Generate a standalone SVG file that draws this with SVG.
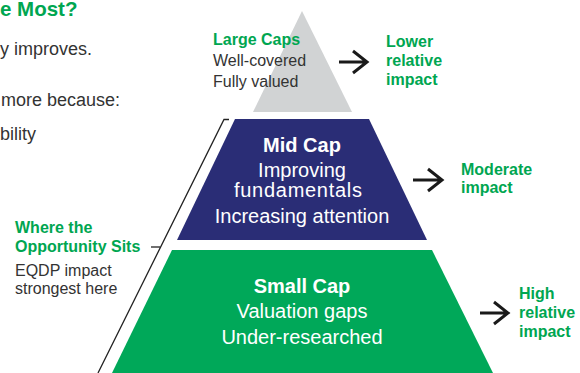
<svg xmlns="http://www.w3.org/2000/svg" width="580" height="373" viewBox="0 0 580 373">
<style>
text{font-family:"Liberation Sans",Arial,sans-serif}
.g{fill:#00a651;font-weight:bold;font-size:16px}
.d{fill:#333333;font-size:16px}
.body{fill:#333333;font-size:18px}
.w{fill:#ffffff;font-size:20px;text-anchor:middle}
.wb{fill:#ffffff;font-size:20px;font-weight:bold;text-anchor:middle}
.arr{fill:none;stroke:#1a1a1a;stroke-width:3}
.thin{fill:none;stroke:#222222;stroke-width:1.3}
</style>
<rect width="580" height="373" fill="#ffffff"/>
<g id="intro">
<text x="0" y="16" fill="#00a651" font-weight="bold" font-size="20.5px">e Most?</text>
<text x="0" y="55" class="body">y improves.</text>
<text x="1" y="106" class="body">more because:</text>
<text x="0" y="140" class="body">bility</text>
</g>
<g id="large-cap">
<polygon points="302,11 352,112 253,112" fill="#d1d3d4"/>
<text x="213" y="45" class="g">Large Caps</text>
<text x="213" y="66" class="d">Well-covered</text>
<text x="213" y="87" class="d">Fully valued</text>
</g>
<g id="mid-cap">
<polygon points="235,119 369,119 427,240 177,240" fill="#2a2d76"/>
<text x="302" y="152" class="wb">Mid Cap</text>
<text x="302" y="177" class="w" font-size="19.5px">Improving</text>
<text x="298" y="197" class="w" font-size="19.5px" textLength="128">fundamentals</text>
<text x="302" y="223" class="w">Increasing attention</text>
</g>
<g id="small-cap">
<polygon points="172,250 432,250 493,373 112,373" fill="#00a859"/>
<text x="302" y="293" class="wb">Small Cap</text>
<text x="302" y="318" class="w">Valuation gaps</text>
<text x="302" y="344" class="w">Under-researched</text>
</g>
<g id="opportunity">
<text x="15" y="233" class="g">Where the</text>
<text x="15" y="252" class="g">Opportunity Sits</text>
<text x="15" y="276" class="d">EQDP impact</text>
<text x="15" y="294" class="d">strongest here</text>
</g>
<g id="impact-lower">
<text x="386" y="46.5" class="g">Lower</text>
<text x="386" y="65.5" class="g">relative</text>
<text x="386" y="84.5" class="g">impact</text>
</g>
<g id="impact-moderate">
<text x="461" y="175" class="g">Moderate</text>
<text x="461" y="193" class="g">impact</text>
</g>
<g id="impact-high">
<text x="519" y="299" class="g">High</text>
<text x="519" y="318" class="g">relative</text>
<text x="519" y="337" class="g">impact</text>
</g>
<g id="connectors">
<path class="arr" d="M339,62 H367 M353,51 L367,62 L353,73"/>
<path class="arr" d="M413,180 H442 M428,169 L442,180 L428,191"/>
<path class="arr" d="M480,313 H508 M494,302 L508,313 L494,324"/>
<path class="thin" d="M229,119.5 H224 L98,373"/>
<path class="thin" d="M151,247 H160"/>
</g>
</svg>
